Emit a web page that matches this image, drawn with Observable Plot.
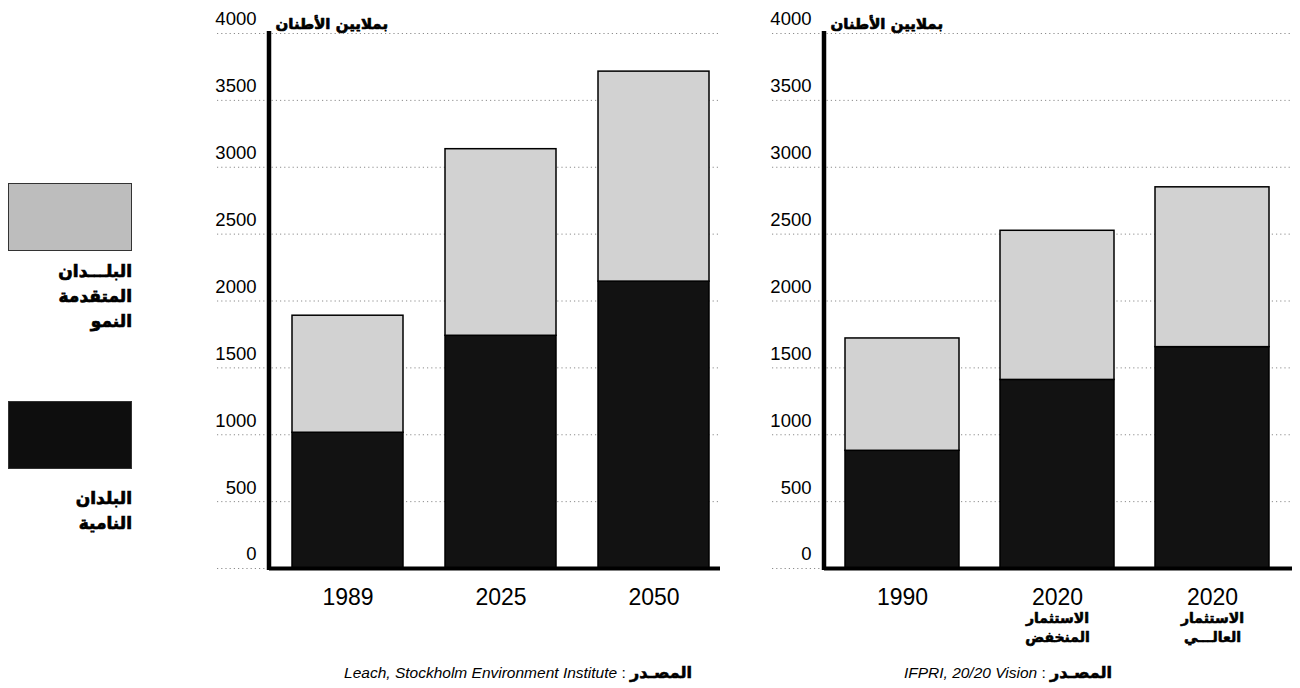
<!DOCTYPE html>
<html>
<head>
<meta charset="utf-8">
<script src="https://cdn.jsdelivr.net/npm/d3@7"></script>
<script src="https://cdn.jsdelivr.net/npm/@observablehq/plot@0.6"></script>
<style>
  html, body { margin: 0; padding: 0; background: #fff; }
  body { width: 1300px; height: 688px; position: relative; overflow: hidden;
         font-family: "Liberation Sans", Arial, sans-serif; }
  .chart { position: absolute; top: 0; }
  .legend-box { position: absolute; left: 8px; width: 124px; height: 68px; border: 1px solid #333; box-sizing: border-box; }
  .legend-label { position: absolute; right: 1168px; direction: rtl; text-align: right;
                  font-family: "DejaVu Sans", sans-serif; font-weight: bold; font-size: 17px;
                  line-height: 25px; white-space: pre-line; color: #000;
                  -webkit-text-stroke: 0.7px #000; }
  .caption { position: absolute; direction: rtl; text-align: right; font-size: 15.5px; line-height: 20px; white-space: nowrap; color: #000; }
  .caption b { font-family: "DejaVu Sans", sans-serif; font-size: 16px; -webkit-text-stroke: 0.6px #000; }
  .caption i { font-family: "Liberation Sans", Arial, sans-serif; }
</style>
</head>
<body>
<div id="left" class="chart" style="left:195px"></div>
<div id="right" class="chart" style="left:770px"></div>
<div id="legend"></div>
<div id="captions"></div>
<script>
// ---------- data ----------
const seriesNames = ["البلدان النامية", "البلدان المتقدمة النمو"];
const legendLabels = ["البلـــدان\nالمتقدمة\nالنمو", "البلدان\nالنامية"];
const unitLabel = "بملايين الأطنان";
const yTicks = [0, 500, 1000, 1500, 2000, 2500, 3000, 3500, 4000];

const leftCategories = ["1989", "2025", "2050"];
const leftYears = ["1989", "2025", "2050"];
const leftDeveloping = [1015, 1740, 2145];
const leftDeveloped = [875, 1395, 1570];
const leftSource = ["المصـدر", "Leach, Stockholm Environment Institute"];

const rightCategories = ["1990", "2020-low", "2020-high"];
const rightYears = ["1990", "2020", "2020"];
const rightScenarios = ["", "الاستثمار\nالمنخفض", "الاستثمار\nالعالـــي"];
const rightDeveloping = [880, 1410, 1655];
const rightDeveloped = [840, 1115, 1195];
const rightSource = ["المصـدر", "IFPRI, 20/20 Vision"];

const colors = ["#121212", "#d2d2d2"];

function makeChart(cfg) {
  const rows = [];
  cfg.cats.forEach((c, i) => {
    rows.push({cat: c, group: seriesNames[0], value: cfg.dev[i]});
    rows.push({cat: c, group: seriesNames[1], value: cfg.adv[i]});
  });
  const axisLine = (index, scales, values, dims) => {
    const x = dims.marginLeft;
    return d3.create("svg:line")
      .attr("x1", x).attr("x2", x)
      .attr("y1", scales.y(4000) - 2)
      .attr("y2", scales.y(0) + 2)
      .attr("stroke", "#000")
      .attr("stroke-width", 4.5)
      .node();
  };
  const marks = [
    Plot.ruleY(yTicks, {stroke: "#8c8c8c", strokeDasharray: "1.2,3", insetLeft: -52}),
    Plot.barY(rows, {x: "cat", y: "value", fill: "group", stroke: "#000", strokeWidth: 1.5}),
    Plot.ruleY([0], {stroke: "#000", strokeWidth: 4}),
    axisLine,
    Plot.axisY({ticks: yTicks, tickFormat: d => String(d), tickSize: 0, tickPadding: 13, dy: -14, fontSize: 18.5, label: null}),
    Plot.axisX({tickSize: 0, tickPadding: 20, fontSize: 23, label: null,
                tickFormat: c => cfg.years[cfg.cats.indexOf(c)]}),
    Plot.text([unitLabel], {frameAnchor: "top-left", dx: 6, dy: -15, textAnchor: "start",
                            fontWeight: "bold", fontSize: 15, fontFamily: "DejaVu Sans",
                            stroke: "#000", strokeWidth: 0.7, fill: "#000"})
  ];
  if (cfg.scen) {
    marks.push(Plot.text(cfg.cats, {x: d => d, text: (d, i) => cfg.scen[i], frameAnchor: "bottom",
      lineAnchor: "top", dy: 42, fontWeight: "bold", fontSize: 14, lineHeight: 1.3,
      fontFamily: "DejaVu Sans", stroke: "#000", strokeWidth: 0.6, fill: "#000"}));
  }
  return Plot.plot({
    width: cfg.width,
    height: 620,
    marginTop: 33,
    marginBottom: 52,
    marginLeft: cfg.marginLeft,
    marginRight: cfg.marginRight,
    style: {fontFamily: "'Liberation Sans', Arial, sans-serif", fontSize: "18px", background: "transparent", overflow: "visible", color: "#000"},
    x: {domain: cfg.cats, paddingInner: cfg.pi, paddingOuter: cfg.po, align: cfg.align},
    y: {domain: [0, 4000]},
    color: {domain: seriesNames, range: colors},
    marks
  });
}

document.getElementById("left").append(makeChart({
  cats: leftCategories, years: leftYears, dev: leftDeveloping, adv: leftDeveloped,
  width: 530, marginLeft: 74, marginRight: 5, pi: 0.273, po: 0.101, align: 0.68
}));
document.getElementById("right").append(makeChart({
  cats: rightCategories, years: rightYears, dev: rightDeveloping, adv: rightDeveloped, scen: rightScenarios,
  width: 530, marginLeft: 54, marginRight: 8, pi: 0.265, po: 0.142, align: 0.48
}));

// ---------- legend ----------
const legend = document.getElementById("legend");
const legendItems = [
  {color: "#bdbdbd", label: legendLabels[0], boxTop: 183, labelTop: 259},
  {color: "#0e0e0e", label: legendLabels[1], boxTop: 401, labelTop: 486}
];
legendItems.forEach(it => {
  const box = document.createElement("div");
  box.className = "legend-box";
  box.style.top = it.boxTop + "px";
  box.style.background = it.color;
  legend.append(box);
  const lab = document.createElement("div");
  lab.className = "legend-label";
  lab.style.top = it.labelTop + "px";
  lab.textContent = it.label;
  legend.append(lab);
});

// ---------- captions ----------
const caps = document.getElementById("captions");
[[leftSource, 608], [rightSource, 188]].forEach(([src, right]) => {
  const d = document.createElement("div");
  d.className = "caption";
  d.style.right = right + "px";
  d.style.top = "663px";
  const b = document.createElement("b"); b.textContent = src[0];
  const i = document.createElement("i"); i.textContent = src[1];
  d.append(b, document.createTextNode(" : "), i);
  caps.append(d);
});
</script>
</body>
</html>
